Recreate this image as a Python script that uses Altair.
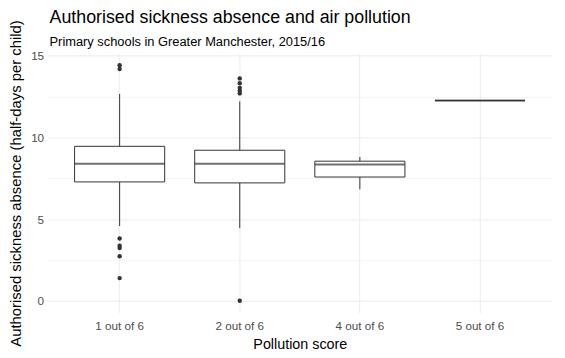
import altair as alt
import pandas as pd

title_text = "Authorised sickness absence and air pollution"
subtitle_text = "Primary schools in Greater Manchester, 2015/16"

categories = ["1 out of 6", "2 out of 6", "4 out of 6", "5 out of 6"]
whisker_low = [4.58, 4.45, 6.83, 12.26]
q1 = [7.28, 7.22, 7.58, 12.26]
median = [8.39, 8.39, 8.35, 12.26]
q3 = [9.46, 9.22, 8.55, 12.26]
whisker_high = [12.67, 12.21, 8.81, 12.26]

outlier_cats = ["1 out of 6"] * 7 + ["2 out of 6"] * 6
outlier_vals = [14.43, 14.19, 3.82, 3.37, 3.23, 2.73, 1.39,
                13.62, 13.32, 13.04, 12.87, 12.70, 0.0]

y_ticks = [0, 2.5, 5, 7.5, 10, 12.5, 15]

stats = pd.DataFrame({
    "cat": categories, "lo": whisker_low, "q1": q1, "med": median,
    "q3": q3, "hi": whisker_high,
})
outl = pd.DataFrame({"cat": outlier_cats, "val": outlier_vals})

W, H = 510, 262
step = W / 4.2
bandw = step * 0.75

FONT = "Liberation Sans"
INK = "#333333"

xscale = alt.Scale(domain=categories, paddingInner=0.25, paddingOuter=0.225)
yscale = alt.Scale(domain=[-0.72, 15.15], nice=False, zero=False)

xaxis = alt.Axis(
    title="Pollution score", grid=True, bandPosition=0.5, gridColor="#ebebeb",
    gridWidth=1, ticks=False, domain=False, labelAngle=0,
    labelColor="#4d4d4d", labelFontSize=11.8, labelFont=FONT, labelPadding=8,
    titleFont=FONT, titleFontSize=14.5, titleFontWeight="normal",
    titleColor="#000000", titlePadding=6,
)
yaxis = alt.Axis(
    title="Authorised sickness absence (half-days per child)",
    values=y_ticks, grid=True, gridColor="#ebebeb",
    gridWidth={"condition": {"test": "datum.value % 5 === 0", "value": 1}, "value": 0.5},
    labelExpr="datum.value % 5 === 0 ? datum.label : ''",
    ticks=False, domain=False, labelColor="#4d4d4d", labelFontSize=11.8,
    labelFont=FONT, labelPadding=4, titleFont=FONT, titleFontSize=15,
    titleFontWeight="normal", titleColor="#000000", titlePadding=7,
)

base = alt.Chart(stats)

whiskers = base.mark_rule(color=INK, strokeWidth=1).encode(
    x=alt.X("cat:N", scale=xscale, axis=xaxis, sort=categories),
    y=alt.Y("lo:Q", scale=yscale, axis=yaxis),
    y2="hi:Q",
)
boxes = base.mark_bar(fill="white", stroke=INK, strokeWidth=1).encode(
    x=alt.X("cat:N", scale=xscale, sort=categories),
    y=alt.Y("q1:Q", scale=yscale),
    y2="q3:Q",
)
medians = base.mark_tick(color=INK, thickness=2, size=bandw, orient="horizontal").encode(
    x=alt.X("cat:N", scale=xscale, sort=categories),
    y=alt.Y("med:Q", scale=yscale),
)
points = alt.Chart(outl).mark_circle(color=INK, size=20, opacity=1).encode(
    x=alt.X("cat:N", scale=xscale, sort=categories),
    y=alt.Y("val:Q", scale=yscale),
)

title_layer = alt.Chart(pd.DataFrame({"t": [title_text]})).mark_text(
    font=FONT, fontSize=18, color="#000000", align="left", baseline="alphabetic"
).encode(x=alt.value(2), y=alt.value(-30.5), text="t:N")
subtitle_layer = alt.Chart(pd.DataFrame({"t": [subtitle_text]})).mark_text(
    font=FONT, fontSize=13, color="#000000", align="left", baseline="alphabetic"
).encode(x=alt.value(2), y=alt.value(-7), text="t:N")

chart = alt.layer(whiskers, boxes, medians, points, title_layer, subtitle_layer).properties(
    width=W, height=H,
    autosize=alt.AutoSizeParams(type="none"),
    padding={"left": 40, "top": 44, "right": 5, "bottom": 40},
).configure_view(stroke=None)

chart.save("out.html", embed_options={"renderer": "svg", "actions": False})
